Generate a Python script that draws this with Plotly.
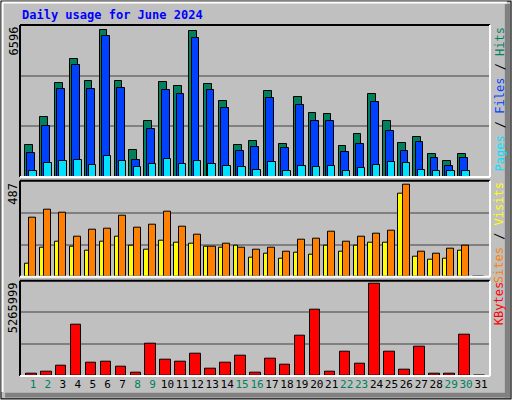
import plotly.graph_objects as go

days = list(range(1, 32))
hits = [1450,2700,4225,5300,4315,6596,4315,1226,2524,4270,4090,6551,4180,3420,1450,1630,3866,1495,3600,2882,2836,1405,1942,3732,2524,1540,1808,1047,734,1047,0]
files = [1092,2300,3956,5030,3956,6296,4000,779,2166,3911,3732,6238,3911,3106,1181,1360,3553,1316,3240,2524,2524,1137,1495,3375,2076,1181,1584,868,510,868,0]
pages = [255,644,734,779,555,958,734,465,600,823,600,734,600,510,465,331,690,286,510,465,510,286,420,555,690,644,331,286,286,286,0]
sites = [313,355,339,212,249,255,323,260,276,344,265,223,160,175,154,144,154,133,197,202,238,186,212,228,244,487,133,123,149,165,0]
visits = [70,154,186,160,139,186,211,165,142,191,179,174,160,154,165,102,121,96,128,116,165,132,165,179,179,439,106,91,96,139,0]
kbytes = [155000,269000,612000,2959000,784000,841000,555000,212000,1872000,956000,841000,1299000,441000,784000,1185000,212000,1013000,670000,2330000,3818000,269000,1414000,727000,5265999,1414000,383000,1700000,155000,155000,2387000,0]
weekend = {1,2,8,9,15,16,22,23,29,30}
max_hits, max_sites, max_kb = 6596, 487, 5265999

H = 400.0
def py(y): return 1 - y / H
X0, X1 = 20/512, 490/512
mono = "DejaVu Sans Mono"

fig = go.Figure()
def bar(y, color, off, w, xa, ya):
    fig.add_trace(go.Bar(x=days, y=y, offset=off, width=w, marker=dict(color=color, line=dict(color="black", width=1)),
                         xaxis=xa, yaxis=ya, showlegend=False))

bar(hits, "#00805C", -0.54, 0.52, "x", "y")
bar(files, "#0040FF", -0.38, 0.52, "x", "y")
bar(pages, "#00E0FF", -0.25, 0.5, "x", "y")
bar(visits, "#FFFF00", -0.54, 0.29, "x2", "y2")
bar(sites, "#FF8000", -0.25, 0.47, "x2", "y2")
bar(kbytes, "#FF0000", -0.47, 0.71, "x3", "y3")

rng = [0.13, 31.6]
ymaxs = [max_hits*152/147.4, max_sites*96/92.4, max_kb*95.3/92]
doms = [(py(177), py(25)), (py(276.7), py(180.7)), (py(376), py(280.7))]
lay = dict(barmode="overlay", width=512, height=400, margin=dict(l=0, r=0, t=0, b=0, autoexpand=False),
           paper_bgcolor="#C0C0C0", plot_bgcolor="#C0C0C0", bargap=0)
for i in range(3):
    s = "" if i == 0 else str(i+1)
    lay["xaxis"+s] = dict(domain=[X0, X1], range=rng, showgrid=False, zeroline=False,
                          showticklabels=(i == 2), tickvals=days if i == 2 else None,
                          ticktext=[f'<span style="color:{"#00805C" if d in weekend else "black"}">{d}</span>' for d in days] if i == 2 else None,
                          ticks="", tickangle=0, automargin=False, tickfont=dict(family=mono, size=11),
                          anchor="y"+s, fixedrange=True)
    m = ymaxs[i]
    lay["yaxis"+s] = dict(domain=list(doms[i]), range=[0, m], tickvals=[m/3, 2*m/3], showticklabels=False,
                          gridcolor="#808080", gridwidth=1.5, zeroline=False, anchor="x"+s, fixedrange=True)
fig.update_layout(**lay)

shapes = [
    dict(type="rect", xref="paper", yref="paper", x0=0.002, x1=0.998, y0=0.003, y1=0.997, line=dict(color="black", width=1)),
    dict(type="line", xref="paper", yref="paper", x0=0.004, x1=0.99, y0=0.994, y1=0.994, line=dict(color="white", width=2)),
    dict(type="line", xref="paper", yref="paper", x0=0.005, x1=0.005, y0=0.02, y1=0.994, line=dict(color="white", width=2)),
    dict(type="rect", xref="paper", yref="paper", x0=0.986, x1=0.996, y0=0.006, y1=0.99, fillcolor="#808080", line=dict(width=0)),
    dict(type="rect", xref="paper", yref="paper", x0=0.01, x1=0.996, y0=0.006, y1=0.018, fillcolor="#808080", line=dict(width=0)),
]
for (b, t) in doms:
    shapes.append(dict(type="line", xref="paper", yref="paper", x0=X0, x1=X1, y0=t, y1=t, line=dict(color="black", width=2)))
    shapes.append(dict(type="line", xref="paper", yref="paper", x0=X0, x1=X0, y0=b, y1=t, line=dict(color="black", width=2)))
    shapes.append(dict(type="line", xref="paper", yref="paper", x0=X0, x1=X1, y0=b, y1=b, line=dict(color="white", width=2)))
    shapes.append(dict(type="line", xref="paper", yref="paper", x0=X1, x1=X1, y0=b, y1=t, line=dict(color="white", width=2)))
fig.update_layout(shapes=shapes)

ann = [dict(x=20/512, y=py(15), text="<b>Daily usage for June 2024</b>", font=dict(family=mono, size=12, color="#0000FF"),
            xanchor="left", yanchor="middle")]
for (b, t), lbl in zip(doms, [str(max_hits), str(max_sites), str(max_kb)]):
    ann.append(dict(x=13/512, y=t, text=lbl, textangle=-90, font=dict(family=mono, size=12, color="black"),
                    xanchor="center", yanchor="top"))
right = [
    ('<span style="color:#00E0FF">Pages</span> / <span style="color:#0040FF">Files</span> / <span style="color:#00805C">Hits</span>', doms[0]),
    ('<span style="color:#FF8000">Sites</span> / <span style="color:#FFFF00">Visits</span>', doms[1]),
    ('<span style="color:#FF0000">KBytes</span>', doms[2]),
]
for txt, (b, t) in right:
    ann.append(dict(x=499/512, y=t, text=txt, textangle=-90, font=dict(family=mono, size=12, color="black"),
                    xanchor="center", yanchor="top"))
for a in ann:
    a.update(xref="paper", yref="paper", showarrow=False)
fig.update_layout(annotations=ann)

fig.write_html("out.html", config={"displayModeBar": False},
               post_script="document.body.style.margin='0';document.body.style.overflow='hidden';")
